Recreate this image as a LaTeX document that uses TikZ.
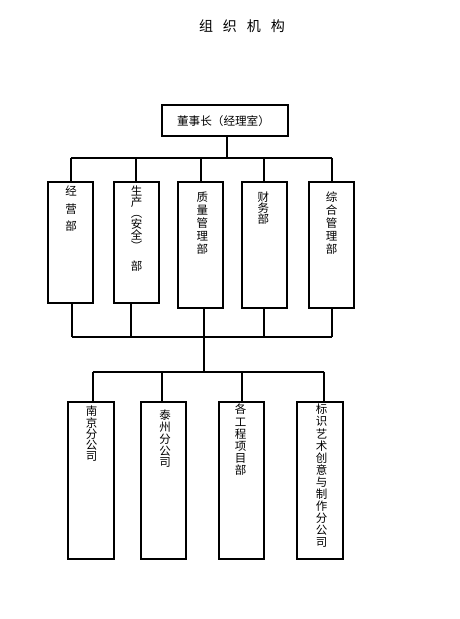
\documentclass[tikz,border=0pt]{standalone}
\usepackage{fontspec}
\setmainfont{Noto Sans CJK SC}
\usetikzlibrary{calc}
\begin{document}
\begin{tikzpicture}[x=1pt,y=-1pt,
  box/.style={draw,line width=2pt,inner sep=0pt,minimum width=45pt},
  conn/.style={line width=2pt},
  vt/.style={anchor=north,inner sep=0pt,align=center,font=\fontsize{11.5}{#1}\selectfont},
]
\useasboundingbox[fill=white] (0,0) rectangle (460,619);
% title
\node (title) at (242,26) {\fontsize{14}{14}\selectfont 组\hspace{10pt}织\hspace{10pt}机\hspace{10pt}构};
% top box
\node[box,minimum width=126.6pt,minimum height=30.7pt] (top) at (225,120.3) {};
\node[inner sep=0pt,font=\fontsize{11.6}{12}\selectfont] (toptext) at (223.5,121.5) {董事长（经理室）};
% row 1
\node[box,minimum height=121.6pt] (b1) at (70.8,242.5) {};
\node[box,minimum height=121.6pt,minimum width=45.5pt] (b2) at (136.3,242.5) {};
\node[box,minimum height=126.3pt] (b3) at (200.7,244.9) {};
\node[box,minimum height=126.3pt] (b4) at (264.2,244.9) {};
\node[box,minimum height=126.3pt] (b5) at (331.7,244.9) {};
% row 2
\node[box,minimum height=157.5pt,minimum width=45.7pt] (c1) at (91.2,480.3) {};
\node[box,minimum height=157.5pt] (c2) at (163.3,480.3) {};
\node[box,minimum height=157.5pt] (c3) at (241.5,480.3) {};
\node[box,minimum height=157.5pt,minimum width=45.5pt] (c4) at (320.2,480.3) {};
% texts row 1
\node[vt=17.5] (t1) at (71,186) {经\\营\\部};
\node[vt=11] (t2) at (136.7,186) {生\\产\\︵\\安\\全\\︶\\[9pt]部};
\node[vt=13] (t3) at (202.3,191.5) {质\\量\\管\\理\\部};
\node[vt=11.3] (t4) at (263.3,191.5) {财\\务\\部};
\node[vt=13] (t5) at (331.7,191.5) {综\\合\\管\\理\\部};
% texts row 2
\node[vt=11.2] (s1) at (91.7,406) {南\\京\\分\\公\\司};
\node[vt=11.9] (s2) at (165,409.5) {泰\\州\\分\\公\\司};
\node[vt=12.2] (s3) at (240.7,404) {各\\工\\程\\项\\目\\部};
\node[vt=12.1] (s4) at (321.7,404) {标\\识\\艺\\术\\创\\意\\与\\制\\作\\分\\公\\司};
% coordinates
\coordinate (busA) at (226.7,158.3);
\coordinate (busB) at (204.3,336.5);
\coordinate (busC) at (204.3,371.5);
% top connectors
\draw[conn] (top.south -| busA) -- (busA);
\draw[conn] (b1.north |- busA) -- (b5.north |- busA);
\foreach \n in {b1,b2,b3,b4,b5} \draw[conn] (\n.north |- busA) -- (\n.north);
% lower bus from row 1
\coordinate (d1) at (71.7,0);
\coordinate (d2) at (131,0);
\coordinate (d3) at (204.3,0);
\coordinate (d4) at (264.2,0);
\coordinate (d5) at (331.7,0);
\draw[conn] (d1 |- busB) -- (d5 |- busB);
\draw[conn] (d1 |- b1.south) -- (d1 |- busB);
\draw[conn] (d2 |- b2.south) -- (d2 |- busB);
\draw[conn] (d3 |- b3.south) -- (d3 |- busB);
\draw[conn] (d4 |- b4.south) -- (d4 |- busB);
\draw[conn] (d5 |- b5.south) -- (d5 |- busB);
\draw[conn] (busB) -- (busC);
% row 2 bus
\coordinate (e1) at (92.7,0);
\coordinate (e2) at (161.7,0);
\coordinate (e3) at (241.7,0);
\coordinate (e4) at (324.3,0);
\draw[conn] (e1 |- busC) -- (e4 |- busC);
\draw[conn] (e1 |- busC) -- (e1 |- c1.north);
\draw[conn] (e2 |- busC) -- (e2 |- c2.north);
\draw[conn] (e3 |- busC) -- (e3 |- c3.north);
\draw[conn] (e4 |- busC) -- (e4 |- c4.north);
\end{tikzpicture}
\end{document}
